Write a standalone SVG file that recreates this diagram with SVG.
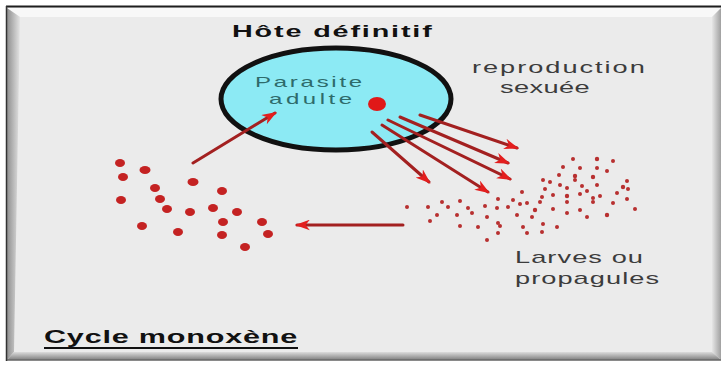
<svg xmlns="http://www.w3.org/2000/svg" width="721" height="365" viewBox="0 0 721 365">
<defs>
<style>
.lbl{font-family:"Liberation Sans",Arial,sans-serif;font-size:17px;fill:#3c3c3c}
.par{font-family:"Liberation Sans",Arial,sans-serif;font-size:15px;fill:#2e6b6b}
.bold{font-family:"Liberation Sans",Arial,sans-serif;font-weight:bold;fill:#111}
.shaft{stroke:#a32020;stroke-width:3;fill:none;stroke-linecap:round}
.big{fill:#c42222}
.small{fill:#b83030}
</style>
<marker id="ah" viewBox="0 0 14 10" refX="12" refY="5" markerWidth="15" markerHeight="11" markerUnits="userSpaceOnUse" orient="auto">
<path d="M0,0 L14,5 L0,10 L4,5 z" fill="#e31e1e"/>
</marker>
<linearGradient id="gl" x1="0" y1="0" x2="1" y2="0"><stop offset="0" stop-color="#8f8f8f"/><stop offset="1" stop-color="#e4e4e4"/></linearGradient>
<linearGradient id="gr" x1="0" y1="0" x2="1" y2="0"><stop offset="0" stop-color="#e6e6e6"/><stop offset="1" stop-color="#a0a0a0"/></linearGradient>
<linearGradient id="gb" x1="0" y1="0" x2="0" y2="1"><stop offset="0" stop-color="#dcdcdc"/><stop offset="1" stop-color="#7e7e7e"/></linearGradient>
</defs>
<rect width="721" height="365" fill="#ffffff"/>
<g id="frame">
<rect x="7" y="7" width="714" height="354" fill="#ebebeb"/>
<polygon points="7,8 721,8 712,17 20,17" fill="#f8f8f8"/>
<polygon points="7,8 20,17 14,352 7,360" fill="url(#gl)"/>
<polygon points="721,8 712,17 712,352 721,360" fill="url(#gr)"/>
<polygon points="7,360 14,352 712,352 721,360" fill="url(#gb)"/>
<line x1="6" y1="360" x2="721" y2="360" stroke="#6a6a6a" stroke-width="1.5"/>
<line x1="6" y1="6.5" x2="721" y2="6.5" stroke="#1e1e1e" stroke-width="2"/>
<line x1="6.5" y1="6" x2="6.5" y2="361" stroke="#333" stroke-width="1.5"/>
</g>
<g id="host">
<ellipse cx="336" cy="99" rx="115" ry="51" fill="#8ceaf4" stroke="#111" stroke-width="5"/>
<ellipse cx="377" cy="104" rx="9" ry="7" fill="#e01818"/>
<g transform="translate(255,87) scale(1.6,1)"><text class="par" x="0" y="0" textLength="67">Parasite</text></g>
<g transform="translate(269,104) scale(1.6,1)"><text class="par" x="0" y="0" textLength="52">adulte</text></g>
<g transform="translate(232,37) scale(1.8,1)"><text class="bold" font-size="16" x="0" y="0" textLength="111">Hôte définitif</text></g>
</g>
<g id="repro">
<g transform="translate(472,73) scale(1.6,1)"><text class="lbl" x="0" y="0" textLength="108">reproduction</text></g>
<g transform="translate(500,93) scale(1.6,1)"><text class="lbl" x="0" y="0" textLength="56">sexuée</text></g>
</g>
<g id="larves">
<g transform="translate(515,263) scale(1.6,1)"><text class="lbl" x="0" y="0" textLength="80">Larves ou</text></g>
<g transform="translate(515,284) scale(1.6,1)"><text class="lbl" x="0" y="0" textLength="90">propagules</text></g>
<g class="small">
<circle cx="573" cy="159" r="2"/><circle cx="597" cy="159" r="2.2"/><circle cx="613" cy="161" r="2"/><circle cx="563" cy="167" r="2"/>
<circle cx="580" cy="168" r="2"/><circle cx="597" cy="168" r="2"/><circle cx="607" cy="171" r="2"/><circle cx="559" cy="175" r="2"/>
<circle cx="575" cy="176" r="2.2"/><circle cx="593" cy="177" r="2.2"/><circle cx="543" cy="180" r="2"/><circle cx="550" cy="182" r="2"/>
<circle cx="575" cy="180" r="2"/><circle cx="627" cy="181" r="2"/><circle cx="560" cy="185" r="2"/><circle cx="582" cy="186" r="2"/>
<circle cx="597" cy="185" r="2"/><circle cx="623" cy="187" r="2.2"/><circle cx="522" cy="192" r="2"/><circle cx="545" cy="189" r="2"/>
<circle cx="567" cy="188" r="2"/><circle cx="587" cy="191" r="2"/><circle cx="617" cy="193" r="2"/><circle cx="628" cy="189" r="2"/>
<circle cx="542" cy="197" r="2"/><circle cx="553" cy="195" r="2"/><circle cx="567" cy="196" r="2.2"/><circle cx="580" cy="194" r="2"/>
<circle cx="593" cy="198" r="2"/><circle cx="600" cy="196" r="2"/><circle cx="627" cy="199" r="2"/><circle cx="442" cy="202" r="2"/>
<circle cx="460" cy="201" r="2"/><circle cx="498" cy="199" r="2"/><circle cx="513" cy="200" r="2"/><circle cx="527" cy="203" r="2"/>
<circle cx="540" cy="202" r="2"/><circle cx="567" cy="202" r="2"/><circle cx="593" cy="202" r="2"/><circle cx="613" cy="203" r="2"/>
<circle cx="407" cy="207" r="2"/><circle cx="428" cy="207" r="2"/><circle cx="448" cy="207" r="2"/><circle cx="468" cy="208" r="2"/>
<circle cx="485" cy="206" r="2"/><circle cx="497" cy="208" r="2"/><circle cx="508" cy="207" r="2"/><circle cx="520" cy="204" r="2"/>
<circle cx="535" cy="210" r="2.2"/><circle cx="553" cy="209" r="2"/><circle cx="580" cy="210" r="2"/><circle cx="635" cy="209" r="2"/>
<circle cx="437" cy="215" r="2"/><circle cx="457" cy="215" r="2"/><circle cx="472" cy="213" r="2"/><circle cx="487" cy="217" r="2"/>
<circle cx="517" cy="215" r="2"/><circle cx="532" cy="217" r="2"/><circle cx="567" cy="213" r="2"/><circle cx="587" cy="217" r="2"/>
<circle cx="607" cy="215" r="2.2"/><circle cx="430" cy="221" r="2"/><circle cx="460" cy="226" r="2"/><circle cx="478" cy="227" r="2"/>
<circle cx="498" cy="223" r="2"/><circle cx="500" cy="226" r="2"/><circle cx="523" cy="227" r="2"/><circle cx="543" cy="224" r="2"/>
<circle cx="557" cy="227" r="2"/><circle cx="498" cy="233" r="2"/><circle cx="527" cy="233" r="2"/><circle cx="542" cy="232" r="2"/>
<circle cx="487" cy="240" r="2"/>
</g>
</g>
<g id="infective">
<g class="big">
<ellipse cx="120" cy="163" rx="5" ry="4"/><ellipse cx="145" cy="170" rx="5.5" ry="4"/><ellipse cx="123" cy="177" rx="5" ry="4"/>
<ellipse cx="193" cy="182" rx="5.5" ry="4"/><ellipse cx="155" cy="188" rx="5" ry="4"/><ellipse cx="222" cy="191" rx="5" ry="4"/>
<ellipse cx="121" cy="200" rx="5" ry="4"/><ellipse cx="160" cy="199" rx="5" ry="4"/><ellipse cx="167" cy="209" rx="5" ry="4"/>
<ellipse cx="190" cy="212" rx="5" ry="4"/><ellipse cx="213" cy="208" rx="5" ry="4"/><ellipse cx="237" cy="212" rx="5" ry="4"/>
<ellipse cx="223" cy="222" rx="5" ry="4"/><ellipse cx="262" cy="222" rx="5" ry="4"/><ellipse cx="142" cy="226" rx="5" ry="4"/>
<ellipse cx="178" cy="232" rx="5" ry="4"/><ellipse cx="222" cy="235" rx="5" ry="4"/><ellipse cx="268" cy="234" rx="5" ry="4"/>
<ellipse cx="245" cy="247" rx="5" ry="4"/>
</g>
</g>
<g id="cycle">
<g transform="translate(44,343) scale(1.7,1)"><text class="bold" font-size="18" x="0" y="0" textLength="149">Cycle monoxène</text></g>
<line x1="44" y1="348" x2="298" y2="348" stroke="#111" stroke-width="2"/>
</g>
<g id="connectors">
<line class="shaft" x1="193" y1="163" x2="275" y2="113" marker-end="url(#ah)"/>
<line class="shaft" x1="372" y1="132" x2="429" y2="182" marker-end="url(#ah)"/>
<line class="shaft" x1="382" y1="125" x2="488" y2="192" marker-end="url(#ah)"/>
<line class="shaft" x1="388" y1="120" x2="510" y2="179" marker-end="url(#ah)"/>
<line class="shaft" x1="400" y1="117" x2="508" y2="163" marker-end="url(#ah)"/>
<line class="shaft" x1="420" y1="115" x2="517" y2="148" marker-end="url(#ah)"/>
<line class="shaft" stroke-width="3.5" x1="403" y1="225" x2="297" y2="225" marker-end="url(#ah)"/>
</g>
</svg>
